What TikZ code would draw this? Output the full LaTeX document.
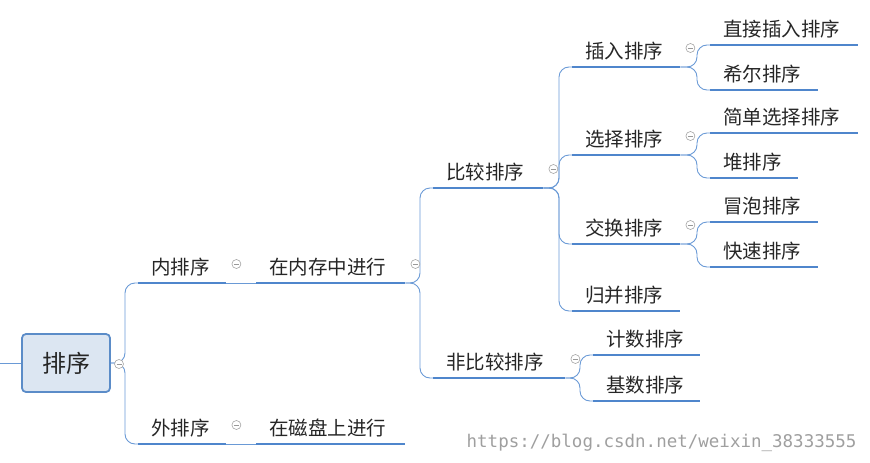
\documentclass[tikz,border=0pt]{standalone}
\usepackage{fontspec}
\setmainfont{Noto Sans CJK SC}
\setmonofont{DejaVu Sans Mono}
\begin{document}
\begin{tikzpicture}[x=1pt,y=-1pt,
  conn/.style={draw=lineblue, line width=0.9pt, rounded corners=10pt},
  ul/.style={draw=ulblue, line width=2.6pt},
  lbl/.style={anchor=south west, inner xsep=13pt, inner ysep=7pt, align=left, font=\fontsize{19.5}{22}\selectfont, text=black!85},
  tog/.style={circle, draw=gray!70, line width=0.6pt, fill=white, minimum size=9pt, inner sep=0pt,
     path picture={\draw[gray!80, line width=0.6pt] ([xshift=-2.5pt]path picture bounding box.center) -- ([xshift=2.5pt]path picture bounding box.center);}},
  rootbox/.style={draw=rootblue, line width=1.8pt, fill=rootfill, rounded corners=4pt, minimum width=88pt, minimum height=58pt, font=\fontsize{24}{28}\selectfont, text=black!85}
]
\definecolor{lineblue}{HTML}{6A9AD6}
\definecolor{ulblue}{HTML}{4F86CC}
\definecolor{rootblue}{HTML}{5B8CC8}
\definecolor{rootfill}{HTML}{DCE6F2}
\useasboundingbox (0,0) rectangle (870,463);
\newcommand{\mk}[5]{\node[lbl, text width=#4pt-26pt] (#1) at (#2,#3) {#5};
  \draw[ul] (#1.south west) -- (#1.south east);}
% root
\node[rootbox] (root) at (66,363) {排序};
\coordinate (lin) at (0,363);
\draw[conn] (lin) -- (root.west);
% level 1
\mk{inner}{138}{283}{88}{内排序}
\mk{outer}{138}{444}{88}{外排序}
\mk{mem}{256}{283}{149}{在内存中进行}
\mk{disk}{256}{444}{149}{在磁盘上进行}
\mk{cmp}{433}{188}{110}{比较排序}
\mk{ncmp}{433}{378}{132}{非比较排序}
\mk{ins}{572}{67}{108}{插入排序}
\mk{sel}{572}{155}{108}{选择排序}
\mk{swp}{572}{244}{108}{交换排序}
\mk{mrg}{572}{311}{108}{归并排序}
\mk{cnt}{593}{355}{107}{计数排序}
\mk{rad}{593}{401}{107}{基数排序}
\mk{l1}{710}{45}{148}{直接插入排序}
\mk{l2}{710}{90}{108}{希尔排序}
\mk{l3}{710}{133}{148}{简单选择排序}
\mk{l4}{710}{178}{88}{堆排序}
\mk{l5}{710}{222}{108}{冒泡排序}
\mk{l6}{710}{267}{108}{快速排序}
% connectors
\draw[conn] (root.east) -| ([xshift=-13pt]inner.south west) -- (inner.south west);
\draw[conn] (root.east) -| ([xshift=-13pt]outer.south west) -- (outer.south west);
\draw[conn] (inner.south east) -- (mem.south west);
\draw[conn] (outer.south east) -- (disk.south west);
\foreach \p/\c in {mem/cmp,mem/ncmp,cmp/ins,cmp/sel,cmp/swp,cmp/mrg,ncmp/cnt,ncmp/rad,ins/l1,ins/l2,sel/l3,sel/l4,swp/l5,swp/l6}
  \draw[conn] (\p.south east) -| ([xshift=-13pt]\c.south west) -- (\c.south west);
% toggles
\node[tog] (t0) at (119,364) {};
\foreach \p in {inner,outer,mem,cmp,ncmp,ins,sel,swp}
  \node[tog] (t\p) at ([shift={(10pt,19pt)}]\p.south east) {};
% watermark
\node[anchor=east, font=\ttfamily\fontsize{17.5}{20}\selectfont, text=gray!75] (wm) at (860,443) {https://blog.csdn.net/weixin\_38333555};
\end{tikzpicture}
\end{document}
